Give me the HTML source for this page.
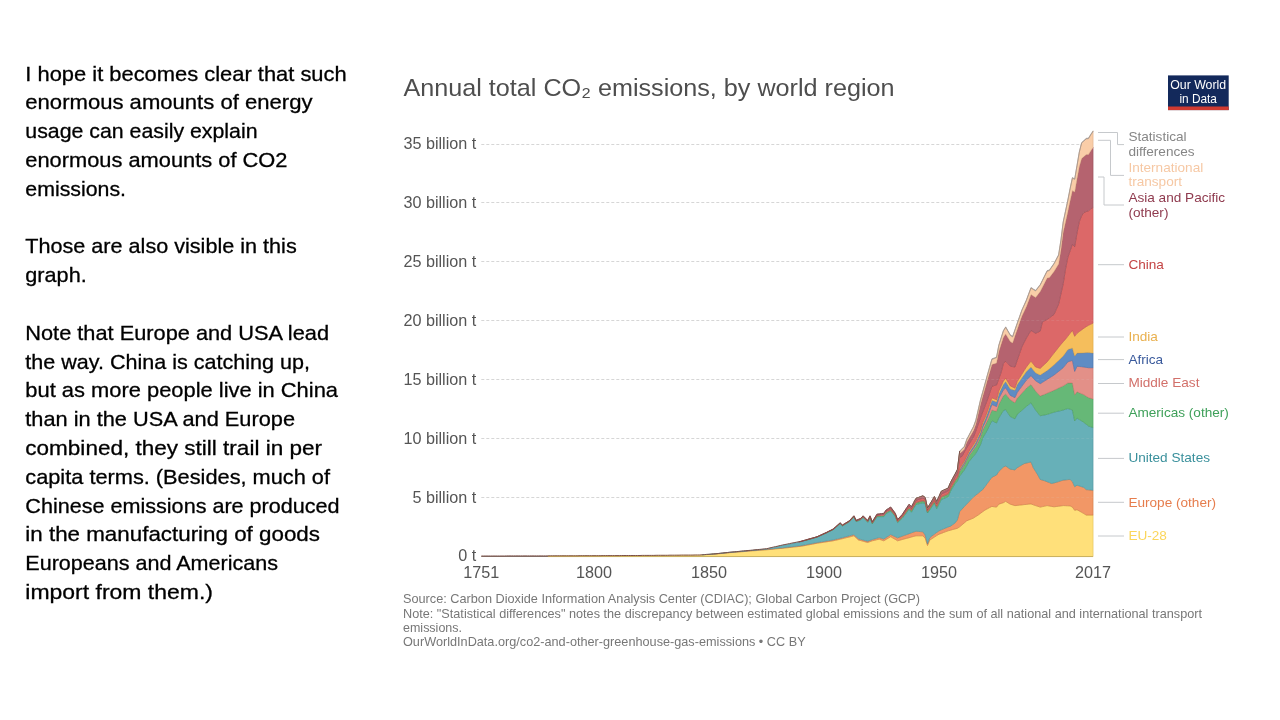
<!DOCTYPE html>
<html lang="en"><head><meta charset="utf-8"><title>CO2 emissions by world region</title>
<style>
html,body{margin:0;padding:0;background:#fff;}
body{width:1280px;height:720px;overflow:hidden;font-family:"Liberation Sans",sans-serif;}
svg{display:block}
.left text{font-family:"Liberation Sans",sans-serif;font-size:20.8px;fill:#000;stroke:#000;stroke-width:0.3px}
.ax text{font-family:"Liberation Sans",sans-serif;font-size:16.2px;fill:#555}
.leg text{font-family:"Liberation Sans",sans-serif;font-size:13.6px}
.src text{font-family:"Liberation Sans",sans-serif;font-size:12.4px;fill:#777}
.grid line{stroke:#d6d6d6;stroke-width:1;stroke-dasharray:3,2}
.conn path{fill:none;stroke:#c6c9cc;stroke-width:1}
</style></head>
<body>
<svg width="1280" height="720" viewBox="0 0 1280 720">
<rect width="1280" height="720" fill="#fff"/>
<g class="left">
<text x="25.3" y="80.6" textLength="321.4" lengthAdjust="spacingAndGlyphs">I hope it becomes clear that such</text>
<text x="25.3" y="109.4" textLength="287.2" lengthAdjust="spacingAndGlyphs">enormous amounts of energy</text>
<text x="25.3" y="138.2" textLength="232.2" lengthAdjust="spacingAndGlyphs">usage can easily explain</text>
<text x="25.3" y="167.0" textLength="262.2" lengthAdjust="spacingAndGlyphs">enormous amounts of CO2</text>
<text x="25.3" y="195.8" textLength="100.7" lengthAdjust="spacingAndGlyphs">emissions.</text>
<text x="25.3" y="253.4" textLength="271.4" lengthAdjust="spacingAndGlyphs">Those are also visible in this</text>
<text x="25.3" y="282.2" textLength="61.4" lengthAdjust="spacingAndGlyphs">graph.</text>
<text x="25.3" y="339.8" textLength="303.7" lengthAdjust="spacingAndGlyphs">Note that Europe and USA lead</text>
<text x="25.3" y="368.6" textLength="284.7" lengthAdjust="spacingAndGlyphs">the way. China is catching up,</text>
<text x="25.3" y="397.4" textLength="312.7" lengthAdjust="spacingAndGlyphs">but as more people live in China</text>
<text x="25.3" y="426.2" textLength="269.7" lengthAdjust="spacingAndGlyphs">than in the USA and Europe</text>
<text x="25.3" y="455.0" textLength="296.7" lengthAdjust="spacingAndGlyphs">combined, they still trail in per</text>
<text x="25.3" y="483.8" textLength="304.7" lengthAdjust="spacingAndGlyphs">capita terms. (Besides, much of</text>
<text x="25.3" y="512.6" textLength="314.3" lengthAdjust="spacingAndGlyphs">Chinese emissions are produced</text>
<text x="25.3" y="541.4" textLength="294.7" lengthAdjust="spacingAndGlyphs">in the manufacturing of goods</text>
<text x="25.3" y="570.2" textLength="252.7" lengthAdjust="spacingAndGlyphs">Europeans and Americans</text>
<text x="25.3" y="599.0" textLength="187.7" lengthAdjust="spacingAndGlyphs">import from them.)</text>
</g>
<text x="403.5" y="95.5" font-family="Liberation Sans, sans-serif" font-size="24.4" fill="#4e4e4e" textLength="491" lengthAdjust="spacingAndGlyphs">Annual total CO₂ emissions, by world region</text>
<g>
<rect x="1168" y="75.4" width="60.7" height="34.7" fill="#13295b"/>
<rect x="1168" y="106.5" width="60.7" height="3.6" fill="#d03a31"/>
<text x="1198.2" y="89.4" text-anchor="middle" font-family="Liberation Sans, sans-serif" font-size="13" fill="#fff" textLength="56" lengthAdjust="spacingAndGlyphs">Our World</text>
<text x="1198.2" y="102.8" text-anchor="middle" font-family="Liberation Sans, sans-serif" font-size="13" fill="#fff" textLength="37.5" lengthAdjust="spacingAndGlyphs">in Data</text>
</g>
<g class="grid">
<line x1="481.3" x2="1093" y1="497.5" y2="497.5"/>
<line x1="481.3" x2="1093" y1="438.5" y2="438.5"/>
<line x1="481.3" x2="1093" y1="379.5" y2="379.5"/>
<line x1="481.3" x2="1093" y1="320.5" y2="320.5"/>
<line x1="481.3" x2="1093" y1="261.5" y2="261.5"/>
<line x1="481.3" x2="1093" y1="202.5" y2="202.5"/>
<line x1="481.3" x2="1093" y1="144.5" y2="144.5"/>
</g>
<g class="ax">
<text x="476.3" y="561.4" text-anchor="end">0 t</text>
<text x="476.3" y="502.5" text-anchor="end">5 billion t</text>
<text x="476.3" y="443.6" text-anchor="end">10 billion t</text>
<text x="476.3" y="384.7" text-anchor="end">15 billion t</text>
<text x="476.3" y="325.8" text-anchor="end">20 billion t</text>
<text x="476.3" y="266.9" text-anchor="end">25 billion t</text>
<text x="476.3" y="208.0" text-anchor="end">30 billion t</text>
<text x="476.3" y="149.1" text-anchor="end">35 billion t</text>
<text x="481.3" y="577.8" text-anchor="middle">1751</text>
<text x="594.0" y="577.8" text-anchor="middle">1800</text>
<text x="709.0" y="577.8" text-anchor="middle">1850</text>
<text x="824.0" y="577.8" text-anchor="middle">1900</text>
<text x="939.0" y="577.8" text-anchor="middle">1950</text>
<text x="1093.1" y="577.8" text-anchor="middle">2017</text>
</g>
<line x1="481.3" x2="1093" y1="556.5" y2="556.5" stroke="#857a72" stroke-width="1"/>
<g class="areas">
<polygon points="548,555.9 550.3,555.9 552.6,555.9 554.9,555.9 557.2,555.9 559.5,555.8 561.8,555.8 564.1,555.8 566.4,555.8 568.7,555.8 571,555.8 573.3,555.8 575.6,555.8 577.9,555.8 580.2,555.8 582.5,555.8 584.8,555.8 587.1,555.8 589.4,555.8 591.7,555.8 594,555.8 596.3,555.7 598.6,555.7 600.9,555.7 603.2,555.7 605.5,555.7 607.8,555.7 610.1,555.7 612.4,555.7 614.7,555.7 617,555.6 619.3,555.6 621.6,555.6 623.9,555.6 626.2,555.6 628.5,555.6 630.8,555.6 633.1,555.6 635.4,555.6 637.7,555.6 640,555.5 642.3,555.5 644.6,555.5 646.9,555.5 649.2,555.5 651.5,555.5 653.8,555.5 656.1,555.5 658.4,555.4 660.7,555.4 663,555.4 665.3,555.4 667.6,555.4 669.9,555.4 672.2,555.4 674.5,555.4 676.8,555.3 679.1,555.3 681.4,555.3 683.7,555.3 686,555.3 688.3,555.3 690.6,555.3 692.9,555.2 695.2,555.2 697.5,555.2 699.8,555.2 702.1,555 704.4,554.9 706.7,554.7 709,554.5 711.3,554.3 713.6,554.2 715.9,554 718.2,553.8 720.5,553.6 722.8,553.4 725.1,553.1 727.4,552.9 729.7,552.7 732,552.5 734.3,552.3 736.6,552.1 738.9,551.9 741.2,551.8 743.5,551.6 745.8,551.4 748.1,551.2 750.4,551 752.7,550.8 755,550.7 757.3,550.5 759.6,550.3 761.9,550.1 764.2,550 766.5,549.8 768.8,549.6 771.1,549.4 773.4,549.2 775.7,548.9 778,548.7 780.3,548.5 782.6,548.3 784.9,548 787.2,547.8 789.5,547.5 791.8,547.3 794.1,547 796.4,546.8 798.7,546.5 801,546.3 803.3,545.9 805.6,545.4 807.9,545 810.2,544.6 812.5,544.2 814.8,543.7 817.1,543.3 819.4,542.9 821.7,542.6 824,542.2 826.3,541.9 828.6,541.5 830.9,541.2 833.2,540.8 835.5,540.3 837.8,539.8 840.1,539.2 842.4,538.7 844.7,538.1 847,537.5 849.3,537 851.6,536.4 853.9,535.8 856.2,537.9 858.5,540 860.8,540.6 863.1,541.2 865.4,541.9 867.7,542.5 870,541.6 872.3,540.8 874.6,540.3 876.9,539.7 879.2,539.2 881.5,540 883.8,540.8 886.1,539.4 888.4,538.1 890.7,536.7 893,538.1 895.3,539.4 897.6,540.8 899.9,540.2 902.2,539.5 904.5,538.9 906.8,538.3 909.1,537.7 911.4,537 913.7,536.4 916,535.8 918.3,535.8 920.6,535.8 922.9,535.8 925.2,538.3 927.5,545.5 929.8,540 932.1,538.6 934.4,537.1 936.7,535.6 939,534.2 941.3,533.4 943.6,532.5 945.9,531.6 948.2,530.8 950.5,530.2 952.8,529.5 955.1,528.9 957.4,528.3 959.7,526.8 962,524.8 964.3,522.9 966.6,520.9 968.9,519.9 971.2,519 973.5,518 975.8,516.5 978.1,515.1 980.4,513.4 982.7,511.7 985,510 987.3,508.8 989.6,507.6 991.9,506.4 994.2,506.8 996.5,507.1 998.8,504.2 1001.1,503.4 1003.4,502.7 1005.7,501.3 1008,502.8 1010.3,504.2 1012.6,504.9 1014.9,505.6 1017.2,505.4 1019.5,505.1 1021.8,504.9 1024.1,504.6 1026.4,504.4 1028.7,504.1 1031,503.9 1033.3,504.8 1035.6,505.6 1037.9,506.3 1040.2,507.1 1042.5,506.6 1044.8,506.1 1047.1,505.6 1049.4,506 1051.7,506.4 1054,506.8 1056.3,506.5 1058.6,506.2 1060.9,505.9 1063.2,505.6 1065.5,505.7 1067.8,505.8 1070.1,505.9 1072.4,507.1 1074.7,510.3 1077,509.7 1079.3,511 1081.6,512.3 1083.9,513.6 1086.2,515.1 1088.5,515.1 1090.8,515.1 1093.1,515.1 1093.1,556.6 548,556.6" fill="#FFE07A" stroke="#d9b84a" stroke-width="0.5" stroke-linejoin="round"/>
<polygon points="711.3,554.2 713.6,554 715.9,553.9 718.2,553.6 720.5,553.4 722.8,553.2 725.1,552.9 727.4,552.7 729.7,552.5 732,552.3 734.3,552.1 736.6,551.9 738.9,551.7 741.2,551.5 743.5,551.3 745.8,551.1 748.1,550.8 750.4,550.6 752.7,550.5 755,550.3 757.3,550.1 759.6,549.9 761.9,549.7 764.2,549.5 766.5,549.3 768.8,549.1 771.1,548.9 773.4,548.7 775.7,548.4 778,548.2 780.3,548 782.6,547.8 784.9,547.5 787.2,547.2 789.5,547 791.8,546.7 794.1,546.4 796.4,546.2 798.7,545.9 801,545.6 803.3,545.2 805.6,544.8 807.9,544.3 810.2,543.9 812.5,543.4 814.8,543 817.1,542.5 819.4,542.2 821.7,541.8 824,541.4 826.3,541 828.6,540.7 830.9,540.3 833.2,539.9 835.5,539.3 837.8,538.8 840.1,538.2 842.4,537.7 844.7,537 847,536.4 849.3,535.8 851.6,535.2 853.9,534.6 856.2,536.7 858.5,538.8 860.8,539.4 863.1,540 865.4,540.7 867.7,541.3 870,540.4 872.3,539.5 874.6,538.9 876.9,538.2 879.2,537.6 881.5,538.3 883.8,539 886.1,537.5 888.4,536 890.7,534.5 893,535.6 895.3,536.7 897.6,537.8 899.9,537 902.2,536.1 904.5,535.3 906.8,534.5 909.1,533.7 911.4,532.8 913.7,532 916,531.2 918.3,531.4 920.6,531.6 922.9,531.8 925.2,535 927.5,543.8 929.8,537.5 932.1,535.8 934.4,534.1 936.7,532.4 939,530.8 941.3,529.8 943.6,528.8 945.9,527.9 948.2,526.9 950.5,526.2 952.8,524.5 955.1,522.9 957.4,519.8 959.7,511.5 962,509.1 964.3,506.6 966.6,504.2 968.9,501.8 971.2,499.3 973.5,496.9 975.8,495.1 978.1,493.3 980.4,491.4 982.7,489.6 985,486.5 987.3,483.4 989.6,480.3 991.9,477.2 994.2,476.1 996.5,475 998.8,471.4 1001.1,469.2 1003.4,467 1005.7,466 1008,467.6 1010.3,469.2 1012.6,469.5 1014.9,469.9 1017.2,467.7 1019.5,466.3 1021.8,465 1024.1,463.6 1026.4,463 1028.7,462.5 1031,461.9 1033.3,467.7 1035.6,471.4 1037.9,475 1040.2,479.4 1042.5,480.1 1044.8,480.8 1047.1,481.7 1049.4,482.6 1051.7,483.5 1054,482.9 1056.3,482.3 1058.6,481.6 1060.9,480.8 1063.2,480.1 1065.5,479.9 1067.8,479.6 1070.1,479.4 1072.4,481.6 1074.7,486.7 1077,485.2 1079.3,485.9 1081.6,486.7 1083.9,487.4 1086.2,489.6 1088.5,489.8 1090.8,490.1 1093.1,490.3 1093.1,515.1 1090.8,515.1 1088.5,515.1 1086.2,515.1 1083.9,513.6 1081.6,512.3 1079.3,511 1077,509.7 1074.7,510.3 1072.4,507.1 1070.1,505.9 1067.8,505.8 1065.5,505.7 1063.2,505.6 1060.9,505.9 1058.6,506.2 1056.3,506.5 1054,506.8 1051.7,506.4 1049.4,506 1047.1,505.6 1044.8,506.1 1042.5,506.6 1040.2,507.1 1037.9,506.3 1035.6,505.6 1033.3,504.8 1031,503.9 1028.7,504.1 1026.4,504.4 1024.1,504.6 1021.8,504.9 1019.5,505.1 1017.2,505.4 1014.9,505.6 1012.6,504.9 1010.3,504.2 1008,502.8 1005.7,501.3 1003.4,502.7 1001.1,503.4 998.8,504.2 996.5,507.1 994.2,506.8 991.9,506.4 989.6,507.6 987.3,508.8 985,510 982.7,511.7 980.4,513.4 978.1,515.1 975.8,516.5 973.5,518 971.2,519 968.9,519.9 966.6,520.9 964.3,522.9 962,524.8 959.7,526.8 957.4,528.3 955.1,528.9 952.8,529.5 950.5,530.2 948.2,530.8 945.9,531.6 943.6,532.5 941.3,533.4 939,534.2 936.7,535.6 934.4,537.1 932.1,538.6 929.8,540 927.5,545.5 925.2,538.3 922.9,535.8 920.6,535.8 918.3,535.8 916,535.8 913.7,536.4 911.4,537 909.1,537.7 906.8,538.3 904.5,538.9 902.2,539.5 899.9,540.2 897.6,540.8 895.3,539.4 893,538.1 890.7,536.7 888.4,538.1 886.1,539.4 883.8,540.8 881.5,540 879.2,539.2 876.9,539.7 874.6,540.3 872.3,540.8 870,541.6 867.7,542.5 865.4,541.9 863.1,541.2 860.8,540.6 858.5,540 856.2,537.9 853.9,535.8 851.6,536.4 849.3,537 847,537.5 844.7,538.1 842.4,538.7 840.1,539.2 837.8,539.8 835.5,540.3 833.2,540.8 830.9,541.2 828.6,541.5 826.3,541.9 824,542.2 821.7,542.6 819.4,542.9 817.1,543.3 814.8,543.7 812.5,544.2 810.2,544.6 807.9,545 805.6,545.4 803.3,545.9 801,546.3 798.7,546.5 796.4,546.8 794.1,547 791.8,547.3 789.5,547.5 787.2,547.8 784.9,548 782.6,548.3 780.3,548.5 778,548.7 775.7,548.9 773.4,549.2 771.1,549.4 768.8,549.6 766.5,549.8 764.2,550 761.9,550.1 759.6,550.3 757.3,550.5 755,550.7 752.7,550.8 750.4,551 748.1,551.2 745.8,551.4 743.5,551.6 741.2,551.8 738.9,551.9 736.6,552.1 734.3,552.3 732,552.5 729.7,552.7 727.4,552.9 725.1,553.1 722.8,553.4 720.5,553.6 718.2,553.8 715.9,554 713.6,554.2 711.3,554.3" fill="#F29766" stroke="#c9733f" stroke-width="0.5" stroke-linejoin="round"/>
<polygon points="702.1,554.8 704.4,554.6 706.7,554.4 709,554.3 711.3,554.1 713.6,553.9 715.9,553.7 718.2,553.5 720.5,553.3 722.8,553 725.1,552.8 727.4,552.6 729.7,552.3 732,552.1 734.3,551.9 736.6,551.7 738.9,551.5 741.2,551.3 743.5,551.1 745.8,550.9 748.1,550.7 750.4,550.5 752.7,550.3 755,550 757.3,549.8 759.6,549.6 761.9,549.4 764.2,549.2 766.5,549 768.8,548.4 771.1,547.9 773.4,547.4 775.7,546.9 778,546.4 780.3,545.8 782.6,545.3 784.9,544.9 787.2,544.4 789.5,544 791.8,543.5 794.1,543.1 796.4,542.6 798.7,542.2 801,541.7 803.3,541.1 805.6,540.4 807.9,539.8 810.2,539.1 812.5,538.5 814.8,537.8 817.1,537.2 819.4,536.1 821.7,535.1 824,534 826.3,533.1 828.6,531.9 830.9,530.8 833.2,529.7 835.5,527.7 837.8,525.7 840.1,523.7 842.4,525.9 844.7,524.6 847,523.2 849.3,521.9 851.6,519.4 853.9,517 856.2,521.6 858.5,520.7 860.8,519.8 863.1,517.5 865.4,519.9 867.7,522.3 870,517.8 872.3,523.9 874.6,520.4 876.9,516.8 879.2,516.7 881.5,516.6 883.8,516.6 886.1,513.5 888.4,512.3 890.7,511 893,513.8 895.3,516.6 897.6,522.5 899.9,520.4 902.2,518.4 904.5,515.3 906.8,512.3 909.1,509.4 911.4,512.2 913.7,508.3 916,504.4 918.3,503.9 920.6,503.3 922.9,502.8 925.2,503.5 927.5,513 929.8,509.8 932.1,506.5 934.4,503 936.7,508.6 939,504.1 941.3,499.5 943.6,498.6 945.9,497.6 948.2,496.7 950.5,491.3 952.8,487.4 955.1,483.6 957.4,481 959.7,476 962,473 964.3,470 966.6,465.9 968.9,461.7 971.2,458.9 973.5,456.1 975.8,453.3 978.1,449.2 980.4,445 982.7,438 985,434 987.3,430 989.6,425.3 991.9,420.5 994.2,421.8 996.5,423 998.8,418 1001.1,414.2 1003.4,410.5 1005.7,409.5 1008,413.1 1010.3,416.6 1012.6,417.7 1014.9,418.8 1017.2,414.4 1019.5,412.4 1021.8,410.4 1024.1,408.4 1026.4,406.4 1028.7,404.5 1031,402.7 1033.3,406.4 1035.6,410 1037.9,412.9 1040.2,415.8 1042.5,415.3 1044.8,414.9 1047.1,414.4 1049.4,413.7 1051.7,412.9 1054,412.2 1056.3,411.6 1058.6,411.1 1060.9,410.6 1063.2,410 1065.5,409.2 1067.8,408.5 1070.1,409.2 1072.4,410 1074.7,420.9 1077,418 1079.3,419.5 1081.6,420.9 1083.9,422.4 1086.2,424.2 1088.5,426 1090.8,426.8 1093.1,427.5 1093.1,490.3 1090.8,490.1 1088.5,489.8 1086.2,489.6 1083.9,487.4 1081.6,486.7 1079.3,485.9 1077,485.2 1074.7,486.7 1072.4,481.6 1070.1,479.4 1067.8,479.6 1065.5,479.9 1063.2,480.1 1060.9,480.8 1058.6,481.6 1056.3,482.3 1054,482.9 1051.7,483.5 1049.4,482.6 1047.1,481.7 1044.8,480.8 1042.5,480.1 1040.2,479.4 1037.9,475 1035.6,471.4 1033.3,467.7 1031,461.9 1028.7,462.5 1026.4,463 1024.1,463.6 1021.8,465 1019.5,466.3 1017.2,467.7 1014.9,469.9 1012.6,469.5 1010.3,469.2 1008,467.6 1005.7,466 1003.4,467 1001.1,469.2 998.8,471.4 996.5,475 994.2,476.1 991.9,477.2 989.6,480.3 987.3,483.4 985,486.5 982.7,489.6 980.4,491.4 978.1,493.3 975.8,495.1 973.5,496.9 971.2,499.3 968.9,501.8 966.6,504.2 964.3,506.6 962,509.1 959.7,511.5 957.4,519.8 955.1,522.9 952.8,524.5 950.5,526.2 948.2,526.9 945.9,527.9 943.6,528.8 941.3,529.8 939,530.8 936.7,532.4 934.4,534.1 932.1,535.8 929.8,537.5 927.5,543.8 925.2,535 922.9,531.8 920.6,531.6 918.3,531.4 916,531.2 913.7,532 911.4,532.8 909.1,533.7 906.8,534.5 904.5,535.3 902.2,536.1 899.9,537 897.6,537.8 895.3,536.7 893,535.6 890.7,534.5 888.4,536 886.1,537.5 883.8,539 881.5,538.3 879.2,537.6 876.9,538.2 874.6,538.9 872.3,539.5 870,540.4 867.7,541.3 865.4,540.7 863.1,540 860.8,539.4 858.5,538.8 856.2,536.7 853.9,534.6 851.6,535.2 849.3,535.8 847,536.4 844.7,537 842.4,537.7 840.1,538.2 837.8,538.8 835.5,539.3 833.2,539.9 830.9,540.3 828.6,540.7 826.3,541 824,541.4 821.7,541.8 819.4,542.2 817.1,542.5 814.8,543 812.5,543.4 810.2,543.9 807.9,544.3 805.6,544.8 803.3,545.2 801,545.6 798.7,545.9 796.4,546.2 794.1,546.4 791.8,546.7 789.5,547 787.2,547.2 784.9,547.5 782.6,547.8 780.3,548 778,548.2 775.7,548.4 773.4,548.7 771.1,548.9 768.8,549.1 766.5,549.3 764.2,549.5 761.9,549.7 759.6,549.9 757.3,550.1 755,550.3 752.7,550.5 750.4,550.6 748.1,550.8 745.8,551.1 743.5,551.3 741.2,551.5 738.9,551.7 736.6,551.9 734.3,552.1 732,552.3 729.7,552.5 727.4,552.7 725.1,552.9 722.8,553.2 720.5,553.4 718.2,553.6 715.9,553.9 713.6,554 711.3,554.2 709,554.4 706.7,554.6 704.4,554.8 702.1,554.9" fill="#67B0B8" stroke="#4a8f98" stroke-width="0.5" stroke-linejoin="round"/>
<polygon points="805.6,540.3 807.9,539.6 810.2,539 812.5,538.3 814.8,537.7 817.1,537 819.4,536 821.7,535 824,533.9 826.3,532.9 828.6,531.8 830.9,530.6 833.2,529.5 835.5,527.5 837.8,525.5 840.1,523.4 842.4,525.7 844.7,524.3 847,522.9 849.3,521.6 851.6,519.1 853.9,516.7 856.2,521.2 858.5,520.3 860.8,519.4 863.1,517 865.4,519.4 867.7,521.8 870,517.2 872.3,523.3 874.6,519.7 876.9,516.1 879.2,515.9 881.5,515.8 883.8,515.7 886.1,512.5 888.4,511.2 890.7,509.9 893,512.8 895.3,515.7 897.6,521.7 899.9,519.5 902.2,517.3 904.5,514.1 906.8,510.9 909.1,507.9 911.4,510.7 913.7,506.7 916,502.7 918.3,502.1 920.6,501.5 922.9,500.8 925.2,501.8 927.5,511.6 929.8,508.2 932.1,504.8 934.4,501.2 936.7,506.6 939,501.9 941.3,497.2 943.6,496.2 945.9,495.2 948.2,494.2 950.5,488.8 952.8,484.9 955.1,480.9 957.4,477.8 959.7,471.5 962,468.2 964.3,464.8 966.6,460.4 968.9,455.9 971.2,452.7 973.5,449.6 975.8,446.4 978.1,441.9 980.4,437.3 982.7,429.9 985,425.5 987.3,420.8 989.6,415.4 991.9,410 994.2,410.7 996.5,411.3 998.8,404.2 1001.1,400 1003.4,395.8 1005.7,393.9 1008,396.9 1010.3,399.8 1012.6,401.2 1014.9,402.7 1017.2,398.3 1019.5,395.8 1021.8,393.2 1024.1,390.7 1026.4,388.1 1028.7,386.3 1031,384.5 1033.3,387.8 1035.6,391 1037.9,393.5 1040.2,396.1 1042.5,395.1 1044.8,394.2 1047.1,393.2 1049.4,392.2 1051.7,391.3 1054,390.3 1056.3,389.2 1058.6,388.1 1060.9,387 1063.2,385.9 1065.5,384.4 1067.8,383 1070.1,383 1072.4,383 1074.7,394.7 1077,391.8 1079.3,392.8 1081.6,393.7 1083.9,394.7 1086.2,396.2 1088.5,397.6 1090.8,398.3 1093.1,399 1093.1,427.5 1090.8,426.8 1088.5,426 1086.2,424.2 1083.9,422.4 1081.6,420.9 1079.3,419.5 1077,418 1074.7,420.9 1072.4,410 1070.1,409.2 1067.8,408.5 1065.5,409.2 1063.2,410 1060.9,410.6 1058.6,411.1 1056.3,411.6 1054,412.2 1051.7,412.9 1049.4,413.7 1047.1,414.4 1044.8,414.9 1042.5,415.3 1040.2,415.8 1037.9,412.9 1035.6,410 1033.3,406.4 1031,402.7 1028.7,404.5 1026.4,406.4 1024.1,408.4 1021.8,410.4 1019.5,412.4 1017.2,414.4 1014.9,418.8 1012.6,417.7 1010.3,416.6 1008,413.1 1005.7,409.5 1003.4,410.5 1001.1,414.2 998.8,418 996.5,423 994.2,421.8 991.9,420.5 989.6,425.3 987.3,430 985,434 982.7,438 980.4,445 978.1,449.2 975.8,453.3 973.5,456.1 971.2,458.9 968.9,461.7 966.6,465.9 964.3,470 962,473 959.7,476 957.4,481 955.1,483.6 952.8,487.4 950.5,491.3 948.2,496.7 945.9,497.6 943.6,498.6 941.3,499.5 939,504.1 936.7,508.6 934.4,503 932.1,506.5 929.8,509.8 927.5,513 925.2,503.5 922.9,502.8 920.6,503.3 918.3,503.9 916,504.4 913.7,508.3 911.4,512.2 909.1,509.4 906.8,512.3 904.5,515.3 902.2,518.4 899.9,520.4 897.6,522.5 895.3,516.6 893,513.8 890.7,511 888.4,512.3 886.1,513.5 883.8,516.6 881.5,516.6 879.2,516.7 876.9,516.8 874.6,520.4 872.3,523.9 870,517.8 867.7,522.3 865.4,519.9 863.1,517.5 860.8,519.8 858.5,520.7 856.2,521.6 853.9,517 851.6,519.4 849.3,521.9 847,523.2 844.7,524.6 842.4,525.9 840.1,523.7 837.8,525.7 835.5,527.7 833.2,529.7 830.9,530.8 828.6,531.9 826.3,533.1 824,534 821.7,535.1 819.4,536.1 817.1,537.2 814.8,537.8 812.5,538.5 810.2,539.1 807.9,539.8 805.6,540.4" fill="#66B877" stroke="#449a58" stroke-width="0.5" stroke-linejoin="round"/>
<polygon points="913.7,506.6 916,502.6 918.3,501.9 920.6,501.3 922.9,500.7 925.2,501.7 927.5,511.5 929.8,508.1 932.1,504.7 934.4,501.1 936.7,506.5 939,501.7 941.3,497 943.6,496 945.9,495.1 948.2,494.1 950.5,488.7 952.8,484.7 955.1,480.7 957.4,477.6 959.7,470.5 962,467.1 964.3,463.6 966.6,459.1 968.9,454.5 971.2,451.2 973.5,448 975.8,444.5 978.1,439.7 980.4,434.9 982.7,427.2 985,422.5 987.3,417 989.6,410.8 991.9,404.5 994.2,405.5 996.5,406.5 998.8,398.3 1001.1,394.1 1003.4,389.8 1005.7,387.8 1008,391.6 1010.3,395.4 1012.6,396.5 1014.9,397.6 1017.2,392.5 1019.5,389.4 1021.8,386.3 1024.1,383.2 1026.4,380.1 1028.7,377.9 1031,375.7 1033.3,378.2 1035.6,380.8 1037.9,382.2 1040.2,383.7 1042.5,382.3 1044.8,380.8 1047.1,379.4 1049.4,377.9 1051.7,376.5 1054,375 1056.3,373.2 1058.6,371.4 1060.9,369.5 1063.2,367.7 1065.5,364.8 1067.8,361.9 1070.1,361.1 1072.4,360.4 1074.7,371.4 1077,366.2 1079.3,366.5 1081.6,366.7 1083.9,367 1086.2,367.4 1088.5,367.7 1090.8,367.7 1093.1,367.7 1093.1,399 1090.8,398.3 1088.5,397.6 1086.2,396.2 1083.9,394.7 1081.6,393.7 1079.3,392.8 1077,391.8 1074.7,394.7 1072.4,383 1070.1,383 1067.8,383 1065.5,384.4 1063.2,385.9 1060.9,387 1058.6,388.1 1056.3,389.2 1054,390.3 1051.7,391.3 1049.4,392.2 1047.1,393.2 1044.8,394.2 1042.5,395.1 1040.2,396.1 1037.9,393.5 1035.6,391 1033.3,387.8 1031,384.5 1028.7,386.3 1026.4,388.1 1024.1,390.7 1021.8,393.2 1019.5,395.8 1017.2,398.3 1014.9,402.7 1012.6,401.2 1010.3,399.8 1008,396.9 1005.7,393.9 1003.4,395.8 1001.1,400 998.8,404.2 996.5,411.3 994.2,410.7 991.9,410 989.6,415.4 987.3,420.8 985,425.5 982.7,429.9 980.4,437.3 978.1,441.9 975.8,446.4 973.5,449.6 971.2,452.7 968.9,455.9 966.6,460.4 964.3,464.8 962,468.2 959.7,471.5 957.4,477.8 955.1,480.9 952.8,484.9 950.5,488.8 948.2,494.2 945.9,495.2 943.6,496.2 941.3,497.2 939,501.9 936.7,506.6 934.4,501.2 932.1,504.8 929.8,508.2 927.5,511.6 925.2,501.8 922.9,500.8 920.6,501.5 918.3,502.1 916,502.7 913.7,506.7" fill="#E39088" stroke="#c26d65" stroke-width="0.5" stroke-linejoin="round"/>
<polygon points="888.4,511 890.7,509.7 893,512.6 895.3,515.5 897.6,521.5 899.9,519.3 902.2,517.1 904.5,513.9 906.8,510.7 909.1,507.7 911.4,510.4 913.7,506.4 916,502.4 918.3,501.8 920.6,501.1 922.9,500.5 925.2,501.5 927.5,511.4 929.8,507.9 932.1,504.5 934.4,500.9 936.7,506.3 939,501.5 941.3,496.8 943.6,495.8 945.9,494.8 948.2,493.8 950.5,488.4 952.8,484.4 955.1,480.4 957.4,477.2 959.7,469.2 962,465.6 964.3,462.1 966.6,457.4 968.9,452.7 971.2,449.3 973.5,446 975.8,442.3 978.1,437.3 980.4,432.3 982.7,424.4 985,419.5 987.3,413.6 989.6,406.9 991.9,400.2 994.2,401.1 996.5,402 998.8,394 1001.1,389.1 1003.4,384.3 1005.7,381.5 1008,385.2 1010.3,388.9 1012.6,389.6 1014.9,390.3 1017.2,384.5 1019.5,381.2 1021.8,377.9 1024.1,374.7 1026.4,371.4 1028.7,369.2 1031,367 1033.3,369.9 1035.6,372.8 1037.9,373.9 1040.2,375 1042.5,373.5 1044.8,372.1 1047.1,370.6 1049.4,368.7 1051.7,366.7 1054,364.8 1056.3,362.6 1058.6,360.4 1060.9,358.2 1063.2,356 1065.5,352.8 1067.8,349.5 1070.1,348.8 1072.4,348 1074.7,356 1077,353.1 1079.3,353 1081.6,352.9 1083.9,352.8 1086.2,352.6 1088.5,352.4 1090.8,352.8 1093.1,353.1 1093.1,367.7 1090.8,367.7 1088.5,367.7 1086.2,367.4 1083.9,367 1081.6,366.7 1079.3,366.5 1077,366.2 1074.7,371.4 1072.4,360.4 1070.1,361.1 1067.8,361.9 1065.5,364.8 1063.2,367.7 1060.9,369.5 1058.6,371.4 1056.3,373.2 1054,375 1051.7,376.5 1049.4,377.9 1047.1,379.4 1044.8,380.8 1042.5,382.3 1040.2,383.7 1037.9,382.2 1035.6,380.8 1033.3,378.2 1031,375.7 1028.7,377.9 1026.4,380.1 1024.1,383.2 1021.8,386.3 1019.5,389.4 1017.2,392.5 1014.9,397.6 1012.6,396.5 1010.3,395.4 1008,391.6 1005.7,387.8 1003.4,389.8 1001.1,394.1 998.8,398.3 996.5,406.5 994.2,405.5 991.9,404.5 989.6,410.8 987.3,417 985,422.5 982.7,427.2 980.4,434.9 978.1,439.7 975.8,444.5 973.5,448 971.2,451.2 968.9,454.5 966.6,459.1 964.3,463.6 962,467.1 959.7,470.5 957.4,477.6 955.1,480.7 952.8,484.7 950.5,488.7 948.2,494.1 945.9,495.1 943.6,496 941.3,497 939,501.7 936.7,506.5 934.4,501.1 932.1,504.7 929.8,508.1 927.5,511.5 925.2,501.7 922.9,500.7 920.6,501.3 918.3,501.9 916,502.6 913.7,506.6 911.4,510.6 909.1,507.8 906.8,510.8 904.5,514 902.2,517.2 899.9,519.4 897.6,521.6 895.3,515.6 893,512.7 890.7,509.8 888.4,511.1" fill="#5F8CC4" stroke="#4469a3" stroke-width="0.5" stroke-linejoin="round"/>
<polygon points="888.4,510.9 890.7,509.6 893,512.5 895.3,515.4 897.6,521.4 899.9,519.2 902.2,517 904.5,513.8 906.8,510.5 909.1,507.5 911.4,510.2 913.7,506.2 916,502.2 918.3,501.6 920.6,500.9 922.9,500.3 925.2,501.3 927.5,511.2 929.8,507.8 932.1,504.3 934.4,500.7 936.7,506 939,501.3 941.3,496.5 943.6,495.5 945.9,494.5 948.2,493.6 950.5,488.1 952.8,484.1 955.1,480.1 957.4,476.9 959.7,468.2 962,464.6 964.3,460.9 966.6,456.2 968.9,451.4 971.2,447.9 973.5,444.5 975.8,440.7 978.1,435.6 980.4,430.5 982.7,422.5 985,417.5 987.3,411.4 989.6,404.6 991.9,397.8 994.2,398.8 996.5,399.8 998.8,391 1001.1,386 1003.4,381 1005.7,378.2 1008,382 1010.3,385.9 1012.6,387 1014.9,388.1 1017.2,381.6 1019.5,378 1021.8,374.3 1024.1,370.6 1026.4,367 1028.7,364 1031,361.1 1033.3,364.1 1035.6,367 1037.9,367.7 1040.2,368.4 1042.5,366.2 1044.8,364.1 1047.1,361.9 1049.4,359 1051.7,356 1054,353.1 1056.3,350.2 1058.6,347.3 1060.9,344.4 1063.2,341.8 1065.5,339.2 1067.8,336.3 1070.1,333.3 1072.4,330.4 1074.7,336.3 1077,333.3 1079.3,331.6 1081.6,329.9 1083.9,328.2 1086.2,326.7 1088.5,325.3 1090.8,324.2 1093.1,323.1 1093.1,353.1 1090.8,352.8 1088.5,352.4 1086.2,352.6 1083.9,352.8 1081.6,352.9 1079.3,353 1077,353.1 1074.7,356 1072.4,348 1070.1,348.8 1067.8,349.5 1065.5,352.8 1063.2,356 1060.9,358.2 1058.6,360.4 1056.3,362.6 1054,364.8 1051.7,366.7 1049.4,368.7 1047.1,370.6 1044.8,372.1 1042.5,373.5 1040.2,375 1037.9,373.9 1035.6,372.8 1033.3,369.9 1031,367 1028.7,369.2 1026.4,371.4 1024.1,374.7 1021.8,377.9 1019.5,381.2 1017.2,384.5 1014.9,390.3 1012.6,389.6 1010.3,388.9 1008,385.2 1005.7,381.5 1003.4,384.3 1001.1,389.1 998.8,394 996.5,402 994.2,401.1 991.9,400.2 989.6,406.9 987.3,413.6 985,419.5 982.7,424.4 980.4,432.3 978.1,437.3 975.8,442.3 973.5,446 971.2,449.3 968.9,452.7 966.6,457.4 964.3,462.1 962,465.6 959.7,469.2 957.4,477.2 955.1,480.4 952.8,484.4 950.5,488.4 948.2,493.8 945.9,494.8 943.6,495.8 941.3,496.8 939,501.5 936.7,506.3 934.4,500.9 932.1,504.5 929.8,507.9 927.5,511.4 925.2,501.5 922.9,500.5 920.6,501.1 918.3,501.8 916,502.4 913.7,506.4 911.4,510.4 909.1,507.7 906.8,510.7 904.5,513.9 902.2,517.1 899.9,519.3 897.6,521.5 895.3,515.5 893,512.6 890.7,509.7 888.4,511" fill="#F5BE5C" stroke="#d69e3c" stroke-width="0.5" stroke-linejoin="round"/>
<polygon points="798.7,541.9 801,541.4 803.3,540.8 805.6,540.1 807.9,539.5 810.2,538.8 812.5,538.2 814.8,537.5 817.1,536.9 819.4,535.8 821.7,534.8 824,533.7 826.3,532.7 828.6,531.5 830.9,530.4 833.2,529.2 835.5,527.2 837.8,525.1 840.1,523.1 842.4,525.3 844.7,523.9 847,522.6 849.3,521.2 851.6,518.7 853.9,516.2 856.2,520.7 858.5,519.8 860.8,518.8 863.1,516.4 865.4,518.7 867.7,521 870,516.5 872.3,522.4 874.6,518.8 876.9,515.1 879.2,514.9 881.5,514.6 883.8,514.4 886.1,511.2 888.4,509.8 890.7,508.4 893,511.4 895.3,514.4 897.6,520.5 899.9,518.2 902.2,515.8 904.5,512.5 906.8,509.1 909.1,506 911.4,508.6 913.7,504.5 916,500.4 918.3,499.6 920.6,498.9 922.9,498.2 925.2,499.5 927.5,509.7 929.8,506.1 932.1,502.5 934.4,498.7 936.7,503.9 939,499 941.3,494 943.6,493 945.9,492 948.2,490.9 950.5,485.5 952.8,481.4 955.1,477.3 957.4,473.4 959.7,457.5 962,456.3 964.3,452 966.6,448 968.9,444.3 971.2,440.7 973.5,437 975.8,431 978.1,424.5 980.4,418 982.7,412 985,406 987.3,400 989.6,393.2 991.9,386.3 994.2,385.6 996.5,385 998.8,378.8 1001.1,372.5 1003.4,363.5 1005.7,361.1 1008,363.6 1010.3,366.2 1012.6,366.6 1014.9,367 1017.2,360.4 1019.5,353.7 1021.8,347 1024.1,342.5 1026.4,338 1028.7,334.2 1031,330.4 1033.3,331.9 1035.6,333.3 1037.9,332.2 1040.2,331.1 1042.5,321.7 1044.8,320.6 1047.1,319.5 1049.4,317.8 1051.7,316.1 1054,314.4 1056.3,309.3 1058.6,304.2 1060.9,294 1063.2,283.8 1065.5,269.2 1067.8,257.5 1070.1,250.9 1072.4,244.4 1074.7,246.6 1077,233 1079.3,221.7 1081.6,215.8 1083.9,212.5 1086.2,211.6 1088.5,210.8 1090.8,208.8 1093.1,207.5 1093.1,323.1 1090.8,324.2 1088.5,325.3 1086.2,326.7 1083.9,328.2 1081.6,329.9 1079.3,331.6 1077,333.3 1074.7,336.3 1072.4,330.4 1070.1,333.3 1067.8,336.3 1065.5,339.2 1063.2,341.8 1060.9,344.4 1058.6,347.3 1056.3,350.2 1054,353.1 1051.7,356 1049.4,359 1047.1,361.9 1044.8,364.1 1042.5,366.2 1040.2,368.4 1037.9,367.7 1035.6,367 1033.3,364.1 1031,361.1 1028.7,364 1026.4,367 1024.1,370.6 1021.8,374.3 1019.5,378 1017.2,381.6 1014.9,388.1 1012.6,387 1010.3,385.9 1008,382 1005.7,378.2 1003.4,381 1001.1,386 998.8,391 996.5,399.8 994.2,398.8 991.9,397.8 989.6,404.6 987.3,411.4 985,417.5 982.7,422.5 980.4,430.5 978.1,435.6 975.8,440.7 973.5,444.5 971.2,447.9 968.9,451.4 966.6,456.2 964.3,460.9 962,464.6 959.7,468.2 957.4,476.9 955.1,480.1 952.8,484.1 950.5,488.1 948.2,493.6 945.9,494.5 943.6,495.5 941.3,496.5 939,501.3 936.7,506 934.4,500.7 932.1,504.3 929.8,507.8 927.5,511.2 925.2,501.3 922.9,500.3 920.6,500.9 918.3,501.6 916,502.2 913.7,506.2 911.4,510.2 909.1,507.5 906.8,510.5 904.5,513.8 902.2,517 899.9,519.2 897.6,521.4 895.3,515.4 893,512.5 890.7,509.6 888.4,510.9 886.1,512.3 883.8,515.4 881.5,515.5 879.2,515.7 876.9,515.9 874.6,519.5 872.3,523.1 870,517.1 867.7,521.6 865.4,519.2 863.1,516.9 860.8,519.3 858.5,520.2 856.2,521.1 853.9,516.6 851.6,519 849.3,521.5 847,522.9 844.7,524.2 842.4,525.6 840.1,523.4 837.8,525.4 835.5,527.4 833.2,529.5 830.9,530.6 828.6,531.7 826.3,532.9 824,533.9 821.7,534.9 819.4,536 817.1,537 814.8,537.7 812.5,538.3 810.2,539 807.9,539.6 805.6,540.3 803.3,540.9 801,541.6 798.7,542" fill="#DC6868" stroke="#b94a4a" stroke-width="0.5" stroke-linejoin="round"/>
<polygon points="798.7,541.8 801,541.3 803.3,540.7 805.6,540 807.9,539.3 810.2,538.7 812.5,538 814.8,537.4 817.1,536.7 819.4,535.7 821.7,534.6 824,533.6 826.3,532.5 828.6,531.4 830.9,530.2 833.2,529 835.5,527 837.8,524.9 840.1,522.8 842.4,525 844.7,523.6 847,522.2 849.3,520.8 851.6,518.3 853.9,515.8 856.2,520.4 858.5,519.4 860.8,518.4 863.1,515.9 865.4,518.2 867.7,520.5 870,515.9 872.3,521.8 874.6,518 876.9,514.3 879.2,514 881.5,513.7 883.8,513.4 886.1,510.1 888.4,508.7 890.7,507.2 893,510.3 895.3,513.4 897.6,519.6 899.9,517.1 902.2,514.7 904.5,511.2 906.8,507.7 909.1,504.4 911.4,506.9 913.7,502.7 916,498.5 918.3,497.7 920.6,496.9 922.9,496.1 925.2,497.7 927.5,508.2 929.8,504.5 932.1,500.7 934.4,496.8 936.7,501.8 939,496.7 941.3,491.5 943.6,490.5 945.9,489.4 948.2,488.3 950.5,482.9 952.8,478.6 955.1,474.4 957.4,470 959.7,453.6 962,451.4 964.3,449.2 966.6,442.6 968.9,438.5 971.2,434.5 973.5,430.4 975.8,424.3 978.1,414.5 980.4,404.7 982.7,396.6 985,388.4 987.3,380.3 989.6,372.4 991.9,364.5 994.2,363.8 996.5,363.1 998.8,351.4 1001.1,344.3 1003.4,337.2 1005.7,333.9 1008,337.7 1010.3,341.6 1012.6,342.9 1014.9,336.1 1017.2,329.4 1019.5,322.7 1021.8,316.3 1024.1,311.4 1026.4,306.5 1028.7,300.5 1031,294.5 1033.3,296 1035.6,297.4 1037.9,294.5 1040.2,291.6 1042.5,287 1044.8,282.5 1047.1,278.1 1049.4,277.6 1051.7,274.5 1054,271.4 1056.3,267.7 1058.6,263.9 1060.9,250 1063.2,232.3 1065.5,222.1 1067.8,211.8 1070.1,200.8 1072.4,190.6 1074.7,192.1 1077,178.8 1079.3,166.5 1081.6,158.6 1083.9,156.6 1086.2,154.6 1088.5,154.4 1090.8,150.7 1093.1,147.4 1093.1,207.5 1090.8,208.8 1088.5,210.8 1086.2,211.6 1083.9,212.5 1081.6,215.8 1079.3,221.7 1077,233 1074.7,246.6 1072.4,244.4 1070.1,250.9 1067.8,257.5 1065.5,269.2 1063.2,283.8 1060.9,294 1058.6,304.2 1056.3,309.3 1054,314.4 1051.7,316.1 1049.4,317.8 1047.1,319.5 1044.8,320.6 1042.5,321.7 1040.2,331.1 1037.9,332.2 1035.6,333.3 1033.3,331.9 1031,330.4 1028.7,334.2 1026.4,338 1024.1,342.5 1021.8,347 1019.5,353.7 1017.2,360.4 1014.9,367 1012.6,366.6 1010.3,366.2 1008,363.6 1005.7,361.1 1003.4,363.5 1001.1,372.5 998.8,378.8 996.5,385 994.2,385.6 991.9,386.3 989.6,393.2 987.3,400 985,406 982.7,412 980.4,418 978.1,424.5 975.8,431 973.5,437 971.2,440.7 968.9,444.3 966.6,448 964.3,452 962,456.3 959.7,457.5 957.4,473.4 955.1,477.3 952.8,481.4 950.5,485.5 948.2,490.9 945.9,492 943.6,493 941.3,494 939,499 936.7,503.9 934.4,498.7 932.1,502.5 929.8,506.1 927.5,509.7 925.2,499.5 922.9,498.2 920.6,498.9 918.3,499.6 916,500.4 913.7,504.5 911.4,508.6 909.1,506 906.8,509.1 904.5,512.5 902.2,515.8 899.9,518.2 897.6,520.5 895.3,514.4 893,511.4 890.7,508.4 888.4,509.8 886.1,511.2 883.8,514.4 881.5,514.6 879.2,514.9 876.9,515.1 874.6,518.8 872.3,522.4 870,516.5 867.7,521 865.4,518.7 863.1,516.4 860.8,518.8 858.5,519.8 856.2,520.7 853.9,516.2 851.6,518.7 849.3,521.2 847,522.6 844.7,523.9 842.4,525.3 840.1,523.1 837.8,525.1 835.5,527.2 833.2,529.2 830.9,530.4 828.6,531.5 826.3,532.7 824,533.7 821.7,534.8 819.4,535.8 817.1,536.9 814.8,537.5 812.5,538.2 810.2,538.8 807.9,539.5 805.6,540.1 803.3,540.8 801,541.4 798.7,541.9" fill="#B5636F" stroke="#8f4652" stroke-width="0.5" stroke-linejoin="round"/>
<polygon points="913.7,502.6 916,498.4 918.3,497.6 920.6,496.8 922.9,495.9 925.2,497.6 927.5,508.1 929.8,504.4 932.1,500.6 934.4,496.6 936.7,501.6 939,496.5 941.3,491.4 943.6,490.3 945.9,489.2 948.2,488.2 950.5,482.7 952.8,478.4 955.1,474.2 957.4,469.7 959.7,451.6 962,449.2 964.3,446.9 966.6,440.1 968.9,435.7 971.2,431.3 973.5,426.9 975.8,420.6 978.1,410.6 980.4,400.6 982.7,392.3 985,383.9 987.3,375.6 989.6,367.5 991.9,359.4 994.2,358.5 996.5,357.6 998.8,345.6 1001.1,338.3 1003.4,331 1005.7,327.4 1008,331.4 1010.3,335.4 1012.6,336.9 1014.9,330.3 1017.2,323.7 1019.5,317.2 1021.8,310.6 1024.1,305.5 1026.4,300.4 1028.7,294.2 1031,288 1033.3,289.5 1035.6,290.9 1037.9,288 1040.2,285.1 1042.5,280.5 1044.8,275.8 1047.1,271.2 1049.4,270.5 1051.7,267.2 1054,263.9 1056.3,259.6 1058.6,255.2 1060.9,240.6 1063.2,222.3 1065.5,211.4 1067.8,200.6 1070.1,188.9 1072.4,178.1 1074.7,179.3 1077,165.8 1079.3,152.3 1081.6,143.1 1083.9,141 1086.2,138.9 1088.5,138.6 1090.8,134.8 1093.1,131.4 1093.1,147.4 1090.8,150.7 1088.5,154.4 1086.2,154.6 1083.9,156.6 1081.6,158.6 1079.3,166.5 1077,178.8 1074.7,192.1 1072.4,190.6 1070.1,200.8 1067.8,211.8 1065.5,222.1 1063.2,232.3 1060.9,250 1058.6,263.9 1056.3,267.7 1054,271.4 1051.7,274.5 1049.4,277.6 1047.1,278.1 1044.8,282.5 1042.5,287 1040.2,291.6 1037.9,294.5 1035.6,297.4 1033.3,296 1031,294.5 1028.7,300.5 1026.4,306.5 1024.1,311.4 1021.8,316.3 1019.5,322.7 1017.2,329.4 1014.9,336.1 1012.6,342.9 1010.3,341.6 1008,337.7 1005.7,333.9 1003.4,337.2 1001.1,344.3 998.8,351.4 996.5,363.1 994.2,363.8 991.9,364.5 989.6,372.4 987.3,380.3 985,388.4 982.7,396.6 980.4,404.7 978.1,414.5 975.8,424.3 973.5,430.4 971.2,434.5 968.9,438.5 966.6,442.6 964.3,449.2 962,451.4 959.7,453.6 957.4,470 955.1,474.4 952.8,478.6 950.5,482.9 948.2,488.3 945.9,489.4 943.6,490.5 941.3,491.5 939,496.7 936.7,501.8 934.4,496.8 932.1,500.7 929.8,504.5 927.5,508.2 925.2,497.7 922.9,496.1 920.6,496.9 918.3,497.7 916,498.5 913.7,502.7" fill="#F9CDA8" stroke="#d9a67c" stroke-width="0.5" stroke-linejoin="round"/>
<polygon points="913.7,502.5 916,498.3 918.3,497.5 920.6,496.6 922.9,495.8 925.2,497.5 927.5,508 929.8,504.2 932.1,500.5 934.4,496.5 936.7,501.5 939,496.4 941.3,491.2 943.6,490.1 945.9,489.1 948.2,488 950.5,482.5 952.8,478.2 955.1,474 957.4,469.5 959.7,451 962,448.6 964.3,446.3 966.6,439.5 968.9,435.1 971.2,430.7 973.5,426.3 975.8,420 978.1,410 980.4,400 982.7,391.7 985,383.3 987.3,375 989.6,366.9 991.9,358.8 994.2,357.9 996.5,357 998.8,345 1001.1,337.7 1003.4,330.4 1005.7,326.8 1008,330.8 1010.3,334.8 1012.6,336.3 1014.9,329.7 1017.2,323.1 1019.5,316.6 1021.8,310 1024.1,304.9 1026.4,299.8 1028.7,293.6 1031,287.4 1033.3,288.9 1035.6,290.3 1037.9,287.4 1040.2,284.5 1042.5,279.9 1044.8,275.2 1047.1,270.6 1049.4,269.9 1051.7,266.6 1054,263.3 1056.3,258.9 1058.6,254.6 1060.9,240 1063.2,221.7 1065.5,210.8 1067.8,200 1070.1,188.3 1072.4,177.5 1074.7,178.8 1077,165.2 1079.3,151.7 1081.6,142.5 1083.9,140.4 1086.2,138.3 1088.5,138 1090.8,134.2 1093.1,130.8 1093.1,131.4 1090.8,134.8 1088.5,138.6 1086.2,138.9 1083.9,141 1081.6,143.1 1079.3,152.3 1077,165.8 1074.7,179.3 1072.4,178.1 1070.1,188.9 1067.8,200.6 1065.5,211.4 1063.2,222.3 1060.9,240.6 1058.6,255.2 1056.3,259.6 1054,263.9 1051.7,267.2 1049.4,270.5 1047.1,271.2 1044.8,275.8 1042.5,280.5 1040.2,285.1 1037.9,288 1035.6,290.9 1033.3,289.5 1031,288 1028.7,294.2 1026.4,300.4 1024.1,305.5 1021.8,310.6 1019.5,317.2 1017.2,323.7 1014.9,330.3 1012.6,336.9 1010.3,335.4 1008,331.4 1005.7,327.4 1003.4,331 1001.1,338.3 998.8,345.6 996.5,357.6 994.2,358.5 991.9,359.4 989.6,367.5 987.3,375.6 985,383.9 982.7,392.3 980.4,400.6 978.1,410.6 975.8,420.6 973.5,426.9 971.2,431.3 968.9,435.7 966.6,440.1 964.3,446.9 962,449.2 959.7,451.6 957.4,469.7 955.1,474.2 952.8,478.4 950.5,482.7 948.2,488.2 945.9,489.2 943.6,490.3 941.3,491.4 939,496.5 936.7,501.6 934.4,496.6 932.1,500.6 929.8,504.4 927.5,508.1 925.2,497.6 922.9,495.9 920.6,496.8 918.3,497.6 916,498.4 913.7,502.6" fill="#b0aaa6" stroke="#9a8f88" stroke-width="0.5" stroke-linejoin="round"/>
</g>
<polyline points="481.3,556 483.6,556 485.9,556 488.2,556 490.5,556 492.8,556 495.1,556 497.4,556 499.7,556 502,556 504.3,556 506.6,555.9 508.9,555.9 511.2,555.9 513.5,555.9 515.8,555.9 518.1,555.9 520.4,555.9 522.7,555.9 525,555.9 527.3,555.9 529.6,555.9 531.9,555.9 534.2,555.9 536.5,555.9 538.8,555.9 541.1,555.9 543.4,555.9 545.7,555.9 548,555.9 550.3,555.8 552.6,555.8 554.9,555.8 557.2,555.8 559.5,555.8 561.8,555.8 564.1,555.8 566.4,555.8 568.7,555.8 571,555.8 573.3,555.8 575.6,555.8 577.9,555.8 580.2,555.7 582.5,555.7 584.8,555.7 587.1,555.7 589.4,555.7 591.7,555.7 594,555.7 596.3,555.7 598.6,555.7 600.9,555.7 603.2,555.6 605.5,555.6 607.8,555.6 610.1,555.6 612.4,555.6 614.7,555.6 617,555.6 619.3,555.6 621.6,555.5 623.9,555.5 626.2,555.5 628.5,555.5 630.8,555.5 633.1,555.5 635.4,555.5 637.7,555.5 640,555.5 642.3,555.4 644.6,555.4 646.9,555.4 649.2,555.4 651.5,555.4 653.8,555.4 656.1,555.3 658.4,555.3 660.7,555.3 663,555.3 665.3,555.3 667.6,555.3 669.9,555.2 672.2,555.2 674.5,555.2 676.8,555.2 679.1,555.2 681.4,555.1 683.7,555.1 686,555.1 688.3,555.1 690.6,555.1 692.9,555.1 695.2,555 697.5,555 699.8,555 702.1,554.8 704.4,554.6 706.7,554.4 709,554.3 711.3,554.1 713.6,553.9 715.9,553.7 718.2,553.5 720.5,553.2 722.8,553 725.1,552.7 727.4,552.5 729.7,552.2 732,552 734.3,551.8 736.6,551.6 738.9,551.4 741.2,551.1 743.5,550.9 745.8,550.7 748.1,550.5 750.4,550.3 752.7,550.1 755,549.8 757.3,549.6 759.6,549.4 761.9,549.2 764.2,548.9 766.5,548.7 768.8,548.2 771.1,547.6 773.4,547.1 775.7,546.6 778,546.1 780.3,545.5 782.6,545 784.9,544.5 787.2,544.1 789.5,543.6 791.8,543.1 794.1,542.7 796.4,542.2 798.7,541.8 801,541.3 803.3,540.6 805.6,540 807.9,539.3 810.2,538.7 812.5,538 814.8,537.4 817.1,536.7 819.4,535.6 821.7,534.6 824,533.5 826.3,532.5 828.6,531.3 830.9,530.2 833.2,529 835.5,526.9 837.8,524.9 840.1,522.8 842.4,525 844.7,523.6 847,522.2 849.3,520.8 851.6,518.3 853.9,515.8 856.2,520.3 858.5,519.3 860.8,518.3 863.1,515.8 865.4,518.1 867.7,520.4 870,515.8 872.3,521.7 874.6,518 876.9,514.2 879.2,513.9 881.5,513.6 883.8,513.3 886.1,510 888.4,508.5 890.7,507 893,510.1 895.3,513.3 897.6,519.5 899.9,517 902.2,514.5 904.5,511 906.8,507.5 909.1,504.2 911.4,506.7 913.7,502.5 916,498.3 918.3,497.5 920.6,496.6 922.9,495.8 925.2,497.5 927.5,508 929.8,504.2 932.1,500.5 934.4,496.5 936.7,501.5 939,496.4 941.3,491.2 943.6,490.1 945.9,489.1 948.2,488 950.5,482.5 952.8,478.2 955.1,474 957.4,469.5 959.7,451" fill="none" stroke="#7c5048" stroke-width="1" stroke-linejoin="round"/>
<clipPath id="tc"><polygon points="688.3,555.1 690.6,555.1 692.9,555.1 695.2,555 697.5,555 699.8,555 702.1,554.8 704.4,554.6 706.7,554.4 709,554.3 711.3,554.1 713.6,553.9 715.9,553.7 718.2,553.5 720.5,553.2 722.8,553 725.1,552.7 727.4,552.5 729.7,552.2 732,552 734.3,551.8 736.6,551.6 738.9,551.4 741.2,551.1 743.5,550.9 745.8,550.7 748.1,550.5 750.4,550.3 752.7,550.1 755,549.8 757.3,549.6 759.6,549.4 761.9,549.2 764.2,548.9 766.5,548.7 768.8,548.2 771.1,547.6 773.4,547.1 775.7,546.6 778,546.1 780.3,545.5 782.6,545 784.9,544.5 787.2,544.1 789.5,543.6 791.8,543.1 794.1,542.7 796.4,542.2 798.7,541.8 801,541.3 803.3,540.6 805.6,540 807.9,539.3 810.2,538.7 812.5,538 814.8,537.4 817.1,536.7 819.4,535.6 821.7,534.6 824,533.5 826.3,532.5 828.6,531.3 830.9,530.2 833.2,529 835.5,526.9 837.8,524.9 840.1,522.8 842.4,525 844.7,523.6 847,522.2 849.3,520.8 851.6,518.3 853.9,515.8 856.2,520.3 858.5,519.3 860.8,518.3 863.1,515.8 865.4,518.1 867.7,520.4 870,515.8 872.3,521.7 874.6,518 876.9,514.2 879.2,513.9 881.5,513.6 883.8,513.3 886.1,510 888.4,508.5 890.7,507 893,510.1 895.3,513.3 897.6,519.5 899.9,517 902.2,514.5 904.5,511 906.8,507.5 909.1,504.2 911.4,506.7 913.7,502.5 916,498.3 918.3,497.5 920.6,496.6 922.9,495.8 925.2,497.5 927.5,508 929.8,504.2 932.1,500.5 934.4,496.5 936.7,501.5 939,496.4 941.3,491.2 943.6,490.1 945.9,489.1 948.2,488 950.5,482.5 952.8,478.2 955.1,474 957.4,469.5 959.7,451 962,448.6 964.3,446.3 966.6,439.5 968.9,435.1 971.2,430.7 973.5,426.3 975.8,420 978.1,410 980.4,400 982.7,391.7 985,383.3 987.3,375 989.6,366.9 991.9,358.8 994.2,357.9 996.5,357 998.8,345 1001.1,337.7 1003.4,330.4 1005.7,326.8 1008,330.8 1010.3,334.8 1012.6,336.3 1014.9,329.7 1017.2,323.1 1019.5,316.6 1021.8,310 1024.1,304.9 1026.4,299.8 1028.7,293.6 1031,287.4 1033.3,288.9 1035.6,290.3 1037.9,287.4 1040.2,284.5 1042.5,279.9 1044.8,275.2 1047.1,270.6 1049.4,269.9 1051.7,266.6 1054,263.3 1056.3,258.9 1058.6,254.6 1060.9,240 1063.2,221.7 1065.5,210.8 1067.8,200 1070.1,188.3 1072.4,177.5 1074.7,178.8 1077,165.2 1079.3,151.7 1081.6,142.5 1083.9,140.4 1086.2,138.3 1088.5,138 1090.8,134.2 1093.1,130.8 1093.1,556 688.3,556"/></clipPath>
<g class="grid" opacity="0.12" clip-path="url(#tc)">
<line x1="841.3" x2="1093" y1="497.5" y2="497.5"/>
<line x1="841.3" x2="1093" y1="438.5" y2="438.5"/>
<line x1="841.3" x2="1093" y1="379.5" y2="379.5"/>
<line x1="841.3" x2="1093" y1="320.5" y2="320.5"/>
</g>
<g class="conn">
<path d="M1098,132.5H1117.5V144.6H1124"/>
<path d="M1098,140.3H1110.5V175.4H1124"/>
<path d="M1098,177H1104V205H1124"/>
<path d="M1098,264.7H1124"/>
<path d="M1098,337H1124"/>
<path d="M1098,359.6H1124"/>
<path d="M1098,383.5H1124"/>
<path d="M1098,413.2H1124"/>
<path d="M1098,458.4H1124"/>
<path d="M1098,502.3H1124"/>
<path d="M1098,536H1124"/>
</g>
<g class="leg">
<text x="1128.4" y="141" fill="#868686">Statistical</text>
<text x="1128.4" y="155.6" fill="#868686">differences</text>
<text x="1128.4" y="171.5" fill="#f6c8a4">International</text>
<text x="1128.4" y="186.3" fill="#f6c8a4">transport</text>
<text x="1128.4" y="202" fill="#8f3a4e">Asia and Pacific</text>
<text x="1128.4" y="216.8" fill="#8f3a4e">(other)</text>
<text x="1128.4" y="269.3" fill="#c44545">China</text>
<text x="1128.4" y="341.2" fill="#e9b04e">India</text>
<text x="1128.4" y="363.9" fill="#3a5a9c">Africa</text>
<text x="1128.4" y="387.3" fill="#d2706a">Middle East</text>
<text x="1128.4" y="417.3" fill="#3fa05a">Americas (other)</text>
<text x="1128.4" y="462.3" fill="#3a909c">United States</text>
<text x="1128.4" y="506.9" fill="#e67d4d">Europe (other)</text>
<text x="1128.4" y="540.3" fill="#fbd65c">EU-28</text>
</g>
<g class="src">
<text x="403" y="603.3" textLength="517" lengthAdjust="spacingAndGlyphs">Source: Carbon Dioxide Information Analysis Center (CDIAC); Global Carbon Project (GCP)</text>
<text x="403" y="617.8" textLength="799" lengthAdjust="spacingAndGlyphs">Note: "Statistical differences" notes the discrepancy between estimated global emissions and the sum of all national and international transport</text>
<text x="403" y="632" textLength="59" lengthAdjust="spacingAndGlyphs">emissions.</text>
<text x="403" y="646.3" textLength="402.6" lengthAdjust="spacingAndGlyphs">OurWorldInData.org/co2-and-other-greenhouse-gas-emissions • CC BY</text>
</g>
</svg>
</body></html>
